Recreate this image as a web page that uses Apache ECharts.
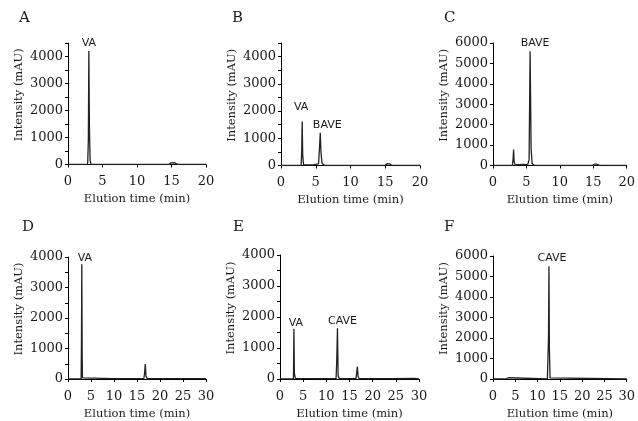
<!DOCTYPE html>
<html><head><meta charset="utf-8">
<script src="https://cdn.jsdelivr.net/npm/echarts@6/dist/echarts.min.js"></script>
<style>html,body{margin:0;padding:0;background:#fff}#c{width:638px;height:421px}</style>
</head><body><div id="c"></div>
<script>
// Panel letters
const panelLetters = ['A','B','C','D','E','F'];
// Chromatogram traces: [time (min), intensity (mAU)]
const traceA = [[0,0],[2.85,0],[2.95,900],[3.02,4200],[3.1,1500],[3.2,150],[3.35,0],[14.6,0],[14.9,60],[15.15,110],[15.45,70],[15.8,10],[16.2,0],[20,0]];
const traceB = [[0,0],[2.9,0],[2.98,500],[3.05,1620],[3.12,400],[3.25,20],[4.6,20],[5.0,40],[5.4,60],[5.55,700],[5.65,1200],[5.75,500],[5.9,80],[6.3,0],[14.9,0],[15.3,70],[15.6,60],[16,0],[20,0]];
const traceC = [[0,0],[2.9,0],[3.0,300],[3.08,780],[3.16,200],[3.3,30],[4.5,50],[5.2,40],[5.4,300],[5.55,5600],[5.7,800],[5.85,100],[6.2,0],[14.9,0],[15.2,70],[15.5,70],[16,0],[20,0]];
const traceD = [[0,0],[2.85,0],[2.93,1200],[3.0,3760],[3.08,800],[3.15,40],[3.3,15],[10,15],[15,10],[16.5,15],[16.65,200],[16.8,490],[16.95,100],[17.2,15],[25,10],[30,10]];
const traceE = [[0,0],[2.9,0],[3.0,1620],[3.1,200],[3.3,20],[8,10],[12.1,10],[12.25,600],[12.4,1640],[12.55,100],[12.8,10],[13.8,10],[14.0,60],[14.2,10],[16.4,10],[16.55,200],[16.7,400],[16.85,80],[17.1,10],[24,15],[29,20],[30,0]];
const traceF = [[0,0],[2.8,0],[3.0,60],[3.2,30],[3.5,60],[3.8,10],[12.2,10],[12.45,2000],[12.55,5500],[12.65,1500],[12.8,50],[13.2,0],[30,0]];
const traces = [traceA, traceB, traceC, traceD, traceE, traceF];
// Axis ranges
const xMax = [20,20,20,30,30,30];
const yMax = [4500,4500,6000,4000,4000,6000];
const yMinor = [true,true,false,true,true,false];
// Peak labels: [panel index, point index in trace, text]
const peakLabels = [[0,3,'VA'],[1,3,'VA'],[1,10,'BAVE'],[2,9,'BAVE'],[3,3,'VA'],[4,2,'VA'],[4,8,'CAVE'],[5,8,'CAVE']];
const xAxisName = 'Elution time (min)';
const yAxisName = 'Intensity (mAU)';

// Layout (styles)
const grids = [
  {left:68, top:43, width:138, height:121.5},
  {left:281, top:43, width:139, height:122.5},
  {left:493, top:43, width:139, height:122.5},
  {left:68, top:257, width:138, height:122},
  {left:280, top:255, width:139, height:124},
  {left:493, top:256, width:139, height:123}
];
const letterPos = [[14,6],[227,6],[439,6],[17,215],[228,215],[439,215]];
// per label: [horizontal shift px, distance above point px]
const labelStyle = {
  '0-3':[0,2], '1-3':[-1,8], '1-10':[7,1.5], '2-9':[5,2],
  '3-3':[3,0.5], '4-2':[2,0], '4-8':[5,1], '5-8':[3,2.5]
};
const serif = '"DejaVu Serif","Liberation Serif",serif';
const ink = '#1a1a1a';

const chart = echarts.init(document.getElementById('c'), null, {renderer:'canvas'});
const option = {
  animation:false,
  backgroundColor:'#fff',
  title: panelLetters.map((t,i)=>({text:t, left:letterPos[i][0], top:letterPos[i][1],
    textStyle:{fontFamily:serif, fontSize:15, fontWeight:'normal', color:ink}})),
  grid: grids,
  xAxis: grids.map((g,i)=>({
    type:'value', gridIndex:i, min:0, max:xMax[i], interval:5,
    name:xAxisName, nameLocation:'middle', nameGap:29,
    nameTextStyle:{fontFamily:serif, fontSize:11.5, color:ink},
    axisLine:{lineStyle:{color:'#000', width:1}},
    axisTick:{length:3, lineStyle:{color:'#000'}},
    axisLabel:{fontFamily:serif, fontSize:13, color:ink, margin:11, formatter:v=>String(v)},
    splitLine:{show:false}
  })),
  yAxis: grids.map((g,i)=>({
    type:'value', gridIndex:i, min:0, max:yMax[i], interval:1000,
    name:yAxisName, nameLocation:'middle', nameGap:43, nameRotate:90,
    nameTextStyle:{fontFamily:serif, fontSize:11.5, color:ink, padding:[0,0,0,18]},
    axisLine:{show:true, lineStyle:{color:'#000', width:1}},
    axisTick:{show:true, length:3, lineStyle:{color:'#000'}},
    minorTick:{show:yMinor[i], splitNumber:2, length:3, lineStyle:{color:'#000'}},
    axisLabel:{fontFamily:serif, fontSize:13, color:ink, margin:5,
      formatter:v=>(v%1000===0 ? String(v) : '')},
    splitLine:{show:false}
  })),
  series: traces.map((tr,i)=>({
    type:'line', xAxisIndex:i, yAxisIndex:i, symbol:'circle', symbolSize:1, showSymbol:true, silent:true,
    itemStyle:{color:'rgba(0,0,0,0)'},
    lineStyle:{color:'#222', width:1.3},
    labelLayout:{hideOverlap:false},
    data: tr.map((p,j)=>{
      const lab = peakLabels.find(l=>l[0]===i && l[1]===j);
      if(!lab) return p;
      const st = labelStyle[i+'-'+j];
      const dx = st[0];
      return {value:p, label:{show:true, formatter:lab[2], position:'top', distance:st[1],
        padding: dx>=0 ? [0,0,0,2*dx] : [0,-2*dx,0,0],
        fontFamily:'"DejaVu Sans",sans-serif', fontSize:11, color:ink}};
    })
  }))
};
chart.setOption(option);
</script></body></html>
